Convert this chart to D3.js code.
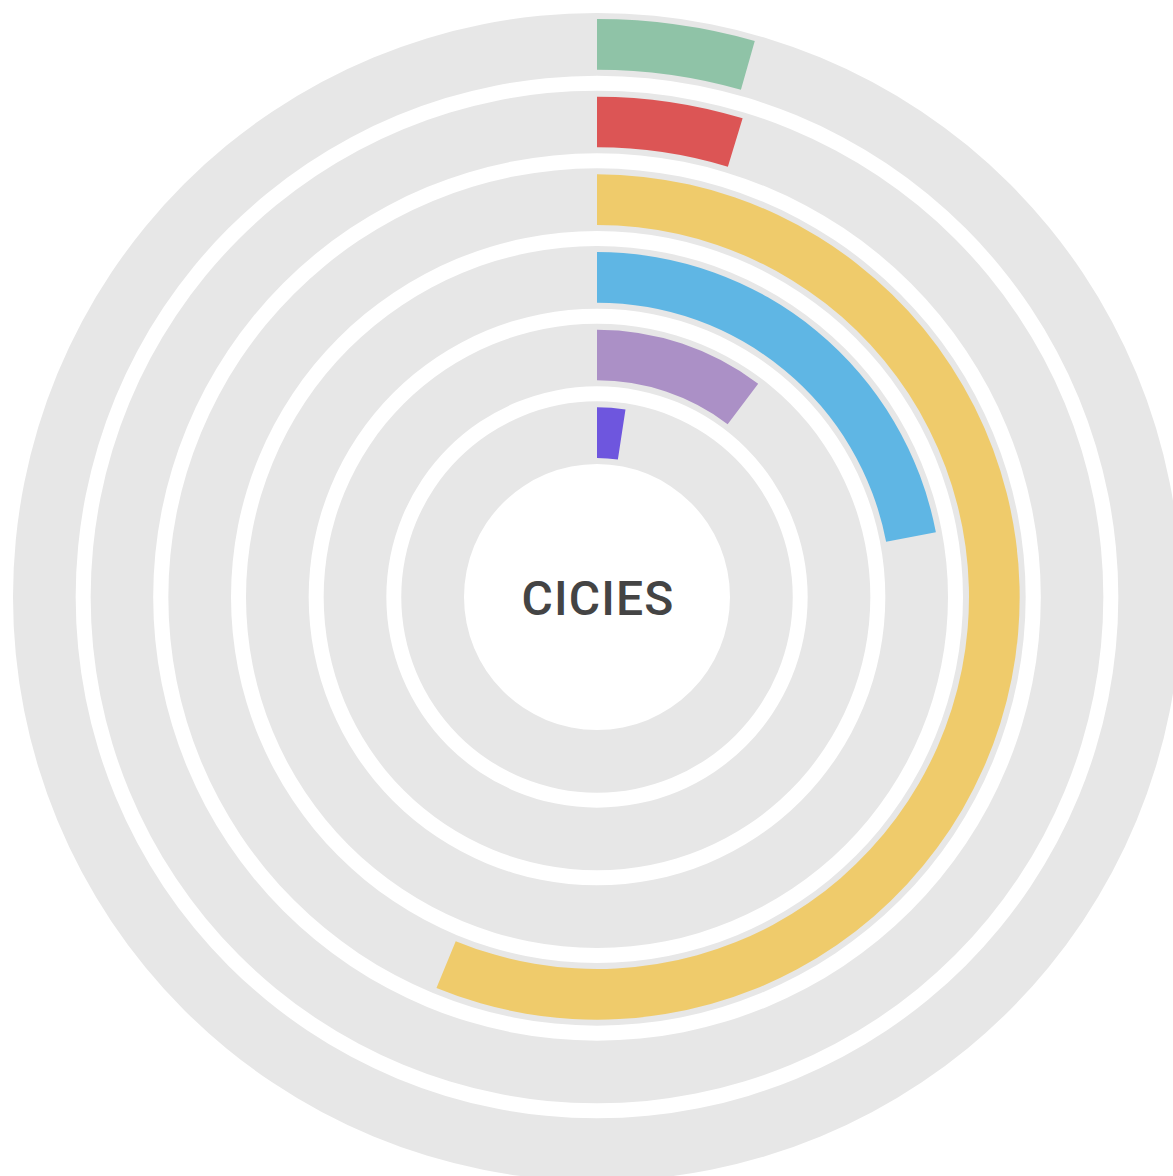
<html>

<head>
    <style>
        body { margin: 0; background: #fff; }
    </style>
</head>

<body>
    <svg id="container" height="1176" width="1173">
        <g id="body" transform="translate(597,597)"></g>
    </svg>
</body>
<script src="https://cdn.jsdelivr.net/npm/d3@7"></script>
<script>
    // rings from outside to inside
    let categories = ["Green", "Red", "Yellow", "Blue", "Purple", "Indigo"]
    let shares = [4.4, 4.7, 56.2, 22.0, 10.3, 2.4] // percent of the full circle
    let colors = ["#8fc3a7", "#dc5555", "#efcb6b", "#5fb6e4", "#ab90c6", "#6e56de"]
    let centerLabel = "CICIES"

    let body = d3.select("#body")

    let outerR = 584
    let innerR = 133
    let gap = 15
    let inset = 6

    let ringWidth = (outerR - innerR - gap * (categories.length - 1)) / categories.length
    let radius = d3.scaleBand()
        .domain(categories)
        .range([outerR, innerR]) // first category is the outer ring
        .paddingInner(gap / (ringWidth + gap))

    let angle = d3.scaleLinear()
        .domain([0, 100])
        .range([0, 2 * Math.PI])

    let arc = d3.arc()

    // grey tracks
    body.selectAll("path.track")
        .data(categories)
        .enter().append("path")
        .attr("class", "track")
        .attr("fill", "#e7e7e7")
        .attr("d", d => arc({
            innerRadius: radius(d),
            outerRadius: radius(d) + radius.bandwidth(),
            startAngle: 0,
            endAngle: 2 * Math.PI
        }))

    // coloured bars
    body.selectAll("path.bar")
        .data(categories)
        .enter().append("path")
        .attr("class", "bar")
        .attr("fill", (d, i) => colors[i])
        .attr("d", (d, i) => arc({
            innerRadius: radius(d) + inset,
            outerRadius: radius(d) + radius.bandwidth() - inset,
            startAngle: 0,
            endAngle: angle(shares[i])
        }))

    body.append("text")
        .attr("text-anchor", "middle")
        .attr("dy", "0.35em")
        .attr("x", 1)
        .attr("y", 1)
        .style("font-family", "Roboto")
        .style("font-weight", 500)
        .style("font-size", "48px")
        .style("letter-spacing", "1.2px")
        .attr("fill", "#444")
        .text(centerLabel)
</script>

</html>
